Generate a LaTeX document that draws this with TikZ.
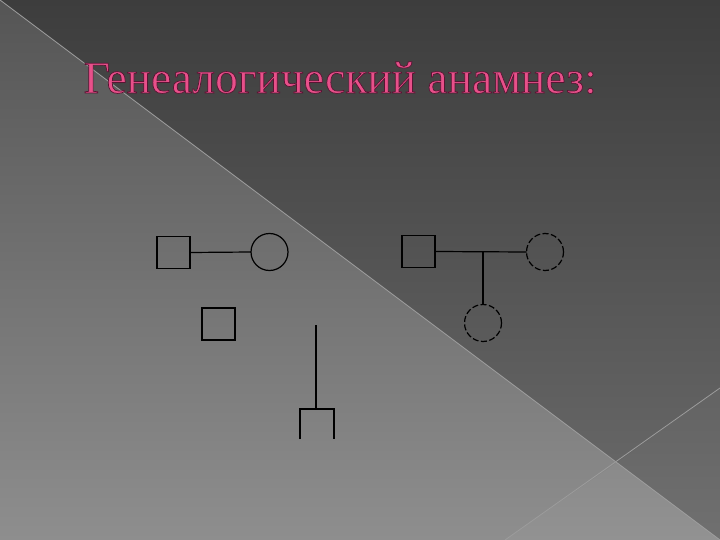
\documentclass[tikz,border=0pt]{standalone}
\usepackage{fontspec}
\setmainfont{Liberation Serif}
\usetikzlibrary{shapes.geometric}
\definecolor{bgtopA}{HTML}{3D3D3D}
\definecolor{bgbotA}{HTML}{6C6C6C}
\definecolor{bgtopB}{HTML}{555555}
\definecolor{bgbotB}{HTML}{8E8E8E}
\definecolor{seam}{HTML}{9C9C9C}
\definecolor{titlepink}{HTML}{E8508A}
\newcommand{\outlinedtitle}[1]{\special{pdf:literal direct 2 Tr 0.7 w 0.35 0.08 0.2 RG}#1\special{pdf:literal direct 0 Tr}}
\tikzset{
  sq/.style={draw=black, line width=1.2pt, minimum width=33pt, minimum height=32pt, inner sep=0pt, outer sep=0pt},
  circ/.style={draw=black, line width=1.2pt, circle, minimum size=37pt, inner sep=0pt, outer sep=0pt},
  dcirc/.style={circ, dash pattern=on 6pt off 2.5pt},
  link/.style={draw=black, line width=1.2pt},
  titletext/.style={font=\fontsize{45.5}{52}\selectfont, text=titlepink, inner sep=0pt, anchor=base west}
}
\begin{document}
\begin{tikzpicture}[x=1pt,y=-1pt]
\useasboundingbox (0,0) rectangle (720,540);
% background regions
\begin{scope}
  \clip (0,0) -- (720,0) -- (720,540) -- cycle;
  \shade[top color=bgtopA, bottom color=bgbotA] (0,0) rectangle (720,540);
\end{scope}
\begin{scope}
  \clip (0,0) -- (0,540) -- (720,540) -- cycle;
  \shade[top color=bgtopB, bottom color=bgbotB] (0,0) rectangle (720,540);
\end{scope}
\fill[white, opacity=0.04] (617,462.75) -- (505,540) -- (720,540) -- cycle;
\fill[white, opacity=0.03] (720,388) -- (617,462.75) -- (720,540) -- cycle;
\draw[seam, line width=0.8pt] (0,0) -- (720,540);
\draw[seam, line width=0.8pt] (720,388) -- (505,540);
% title
\node[titletext] (title) at (83.5,93) {\outlinedtitle{Генеалогический анамнез:}};
% pedigree 1
\node[sq] (s1) at (173.5,252.5) {};
\node[circ] (c1) at (269.5,252) {};
\draw[link] (s1.east) -- (c1.west);
\node[sq] (s2) at (218.5,324) {};
% pedigree 2
\node[sq] (s3) at (418.5,251.5) {};
\node[dcirc] (c3) at (545,252) {};
\draw[link] (s3.east) -- (c3.west);
\node[dcirc] (c4) at (483,323) {};
\draw[link] (c4.north |- s3.east) -- (c4.north);
% lone descent fork
\coordinate (ftop) at (316,325);
\coordinate (fmid) at (316,409);
\coordinate (fl) at (300,409);
\coordinate (fr) at (334,409);
\coordinate (flb) at (300,439);
\coordinate (frb) at (334,439);
\draw[link] (ftop) -- (fmid);
\draw[link] (flb) -- (fl) -- (fr) -- (frb);
\end{tikzpicture}
\end{document}
